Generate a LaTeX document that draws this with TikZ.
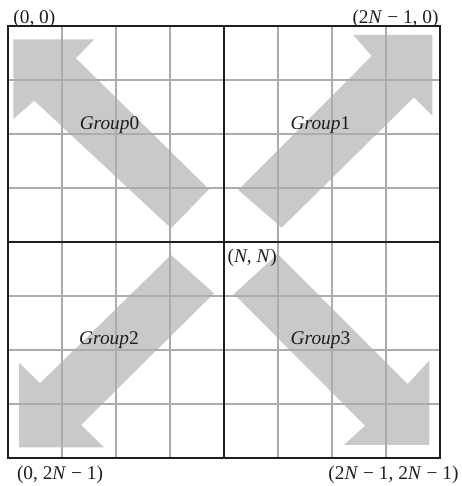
\documentclass[tikz,border=0pt]{standalone}
\usepackage{fontspec}
\setmainfont{Liberation Serif}
\definecolor{arrowgray}{RGB}{200,201,203}
\definecolor{gridgray}{RGB}{172,172,172}
\definecolor{inkblack}{RGB}{30,30,30}
\begin{document}
\begin{tikzpicture}[x=1cm,y=-1cm,
  fatarrow/.style={fill=arrowgray,draw=none},
  thingrid/.style={draw=gridgray,line width=0.55pt},
  thickline/.style={draw=inkblack,line width=0.8pt},
  lbl/.style={font=\fontsize{10.2}{12}\selectfont,text=inkblack,inner sep=0pt}]
\useasboundingbox (-0.148,-0.481) rectangle (8.407,8.519);
% arrows
\fill[fatarrow] (0.099,0.246) -- (1.598,0.246) -- (1.259,0.598) -- (3.722,3.024)
  -- (3.019,3.746) -- (0.487,1.383) -- (0.099,1.722) -- cycle;
\fill[fatarrow] (7.858,0.167) -- (7.858,1.661) -- (7.519,1.321) -- (5.069,3.735)
  -- (4.265,3.037) -- (6.735,0.556) -- (6.395,0.167) -- cycle;
\fill[fatarrow] (0.204,7.802) -- (0.204,6.235) -- (0.593,6.617) -- (3.019,4.241)
  -- (3.815,4.951) -- (1.352,7.389) -- (1.778,7.802) -- cycle;
\fill[fatarrow] (7.802,7.759) -- (6.222,7.759) -- (6.611,7.402) -- (4.185,4.963)
  -- (4.994,4.222) -- (7.402,6.630) -- (7.802,6.198) -- cycle;
% grid
\foreach \i in {1,2,3,5,6,7} {
  \draw[thingrid] (\i,0) -- (\i,8);
  \draw[thingrid] (0,\i) -- (8,\i);
}
\draw[thickline] (4,0) -- (4,8);
\draw[thickline] (0,4) -- (8,4);
\draw[thickline] (0,0) rectangle (8,8);
% labels
\node[lbl,anchor=west] (c00) at (0.093,-0.139) {(0, 0)};
\node[lbl,anchor=east] (c10) at (7.98,-0.139) {(2\textit{N} − 1, 0)};
\node[lbl,anchor=west] (c01) at (0.16,8.315) {(0, 2\textit{N} − 1)};
\node[lbl,anchor=east] (c11) at (8.35,8.315) {(2\textit{N} − 1, 2\textit{N} − 1)};
\node[lbl,anchor=west] (cnn) at (4.06,4.302) {(\textit{N}, \textit{N})};
\node[lbl] (g0) at (1.88,1.833) {\textit{Group}0};
\node[lbl] (g1) at (5.787,1.833) {\textit{Group}1};
\node[lbl] (g2) at (1.87,5.815) {\textit{Group}2};
\node[lbl] (g3) at (5.787,5.815) {\textit{Group}3};
\end{tikzpicture}
\end{document}
